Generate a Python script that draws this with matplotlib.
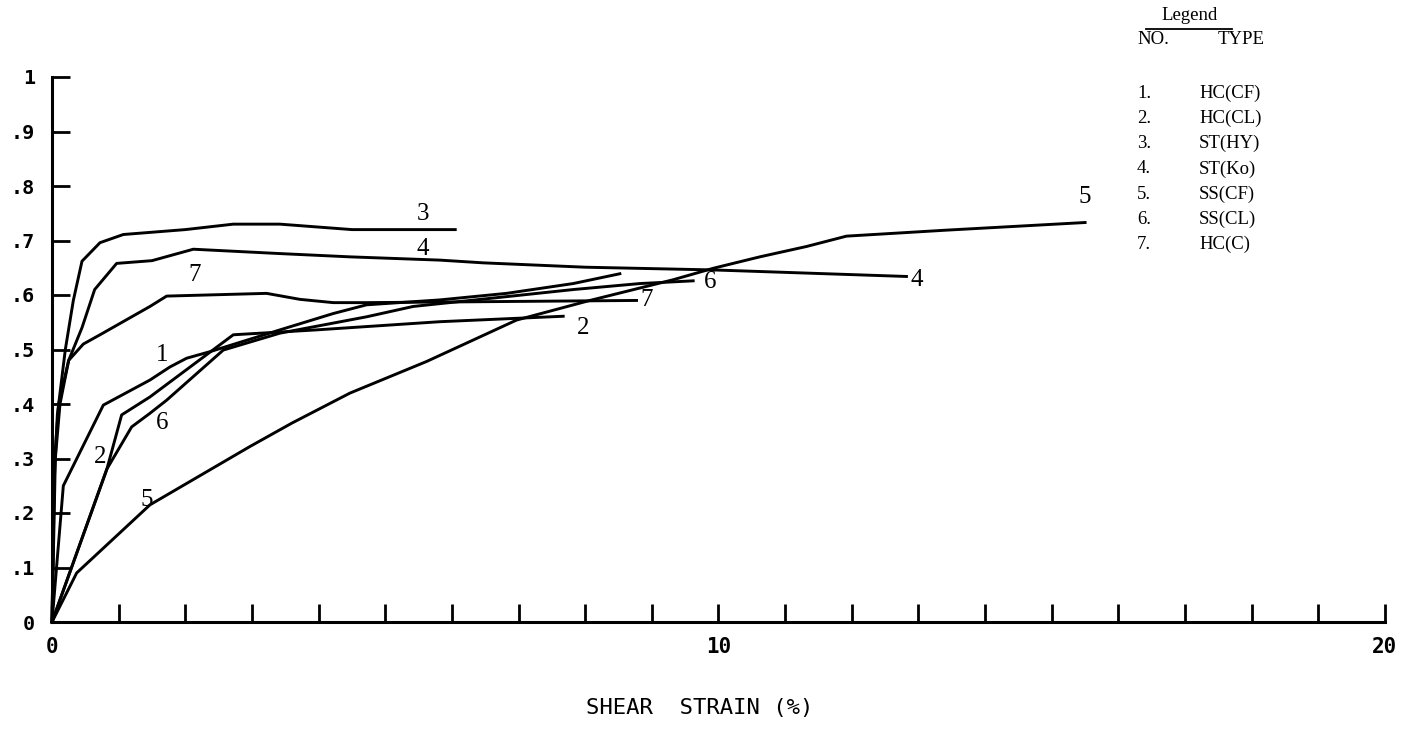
import matplotlib
matplotlib.use("Agg")
import matplotlib.pyplot as plt
from matplotlib.lines import Line2D

# Shear strain (%) vs. normalized shear stress for seven test types
strain_1 = [0, 0.17, 0.77, 1.47, 1.77, 2.02, 2.37, 3.42, 4.22, 4.72, 5.82, 6.82, 7.82, 8.52]
ratio_1 = [0, 0.25, 0.398, 0.444, 0.468, 0.484, 0.496, 0.536, 0.566, 0.582, 0.591, 0.603, 0.621, 0.639]

strain_2 = [0, 0.82, 1.045, 1.47, 2.72, 3.97, 5.82, 7.67]
ratio_2 = [0, 0.279, 0.38, 0.413, 0.527, 0.536, 0.551, 0.561]

strain_3 = [0, 0.03, 0.08, 0.2, 0.32, 0.45, 0.72, 1.07, 2.0, 2.72, 3.42, 4.5, 6.05]
ratio_3 = [0, 0.25, 0.38, 0.5, 0.59, 0.662, 0.696, 0.711, 0.72, 0.73, 0.73, 0.72, 0.72]

strain_4 = [0, 0.05, 0.12, 0.25, 0.45, 0.64, 0.97, 1.5, 2.12, 3.42, 4.47, 5.82, 6.47, 8.0, 9.92, 12.82]
ratio_4 = [0, 0.3, 0.4, 0.48, 0.54, 0.61, 0.658, 0.663, 0.684, 0.676, 0.67, 0.664, 0.659, 0.651, 0.646, 0.634]

strain_5 = [0, 0.37, 1.47, 2.97, 3.6, 4.47, 5.62, 6.97, 8.07, 9.32, 9.92, 10.62, 11.32, 11.92, 13.42, 15.5]
ratio_5 = [0, 0.09, 0.215, 0.322, 0.365, 0.42, 0.478, 0.554, 0.59, 0.628, 0.649, 0.67, 0.689, 0.708, 0.719, 0.733]

strain_6 = [0, 0.82, 1.195, 1.47, 1.72, 2.57, 3.42, 4.72, 5.42, 6.82, 7.82, 8.82, 9.62]
ratio_6 = [0, 0.28, 0.358, 0.383, 0.407, 0.499, 0.53, 0.56, 0.579, 0.597, 0.61, 0.621, 0.626]

strain_7 = [0, 0.04, 0.1, 0.25, 0.47, 0.72, 1.47, 1.72, 3.22, 3.72, 4.22, 4.72, 8.77]
ratio_7 = [0, 0.3, 0.4, 0.48, 0.51, 0.527, 0.579, 0.598, 0.603, 0.592, 0.586, 0.586, 0.59]

curve_numbers = ["1.", "2.", "3.", "4.", "5.", "6.", "7."]
curve_types = ["HC(CF)", "HC(CL)", "ST(HY)", "ST(Ko)", "SS(CF)", "SS(CL)", "HC(C)"]

# curve tags written beside the lines: (text, strain, ratio)
tags = [
    ("3", 5.57, 0.748), ("4", 5.57, 0.684), ("7", 2.14, 0.636),
    ("1", 1.645, 0.489), ("2", 0.72, 0.303), ("6", 1.65, 0.365),
    ("5", 1.42, 0.224), ("2", 7.97, 0.539), ("7", 8.92, 0.591),
    ("6", 9.87, 0.624), ("4", 12.97, 0.628), ("5", 15.5, 0.78),
]

x_ticks = list(range(0, 21))
x_tick_labels = ["0" if t == 0 else "10" if t == 10 else "20" if t == 20 else "" for t in x_ticks]
y_ticks = [0, 0.1, 0.2, 0.3, 0.4, 0.5, 0.6, 0.7, 0.8, 0.9, 1.0]
y_tick_labels = ["0", ".1", ".2", ".3", ".4", ".5", ".6", ".7", ".8", ".9", "1"]

fig = plt.figure(figsize=(14.09, 7.32), dpi=100)
ax = fig.add_axes([52 / 1409, 110 / 732, (1385 - 52) / 1409, (622 - 77) / 732])

series = [(strain_1, ratio_1), (strain_2, ratio_2), (strain_3, ratio_3), (strain_4, ratio_4),
          (strain_5, ratio_5), (strain_6, ratio_6), (strain_7, ratio_7)]
for xs, ys in series:
    ax.plot(xs, ys, color="black", lw=2.1, solid_joinstyle="round", clip_on=False)

serif = ["Liberation Serif", "DejaVu Serif"]
for txt, xv, yv in tags:
    ax.text(xv, yv, txt, ha="center", va="center", fontsize=18, family=serif, color="black")

ax.set_xlim(0, 20)
ax.set_ylim(0, 1)
for side in ("top", "right"):
    ax.spines[side].set_visible(False)
for side in ("left", "bottom"):
    ax.spines[side].set_linewidth(2.2)

mono = "DejaVu Sans Mono"
ax.set_xticks(x_ticks)
ax.set_xticklabels(x_tick_labels, family=mono, fontweight="bold", fontsize=15)
ax.set_yticks(y_ticks)
ax.set_yticklabels(y_tick_labels, family=mono, fontweight="bold", fontsize=14.5)
ax.tick_params(axis="both", direction="in", length=13, width=2.0, color="black")
ax.tick_params(axis="x", pad=11)
ax.tick_params(axis="y", pad=12)

fig.text(700 / 1409, 1 - 708 / 732, "SHEAR  STRAIN (%)", ha="center", va="center",
         family=mono, fontsize=16)

# legend table in the upper right corner
leg_size = 13.5
fig.text(1190 / 1409, 1 - 16 / 732, "Legend", ha="center", va="center", family=serif, fontsize=leg_size)
fig.add_artist(Line2D([1146 / 1409, 1232 / 1409], [1 - 29 / 732, 1 - 29 / 732],
                      color="black", lw=1.3, transform=fig.transFigure))
fig.text(1137 / 1409, 1 - 40 / 732, "NO.", ha="left", va="center", family=serif, fontsize=leg_size)
fig.text(1218 / 1409, 1 - 40 / 732, "TYPE", ha="left", va="center", family=serif, fontsize=leg_size)
for i, (num, typ) in enumerate(zip(curve_numbers, curve_types)):
    yy = 1 - (93 + 25.3 * i) / 732
    fig.text(1137 / 1409, yy, num, ha="left", va="center", family=serif, fontsize=leg_size)
    fig.text(1199 / 1409, yy, typ, ha="left", va="center", family=serif, fontsize=leg_size)

fig.savefig("out.png", dpi=100)
